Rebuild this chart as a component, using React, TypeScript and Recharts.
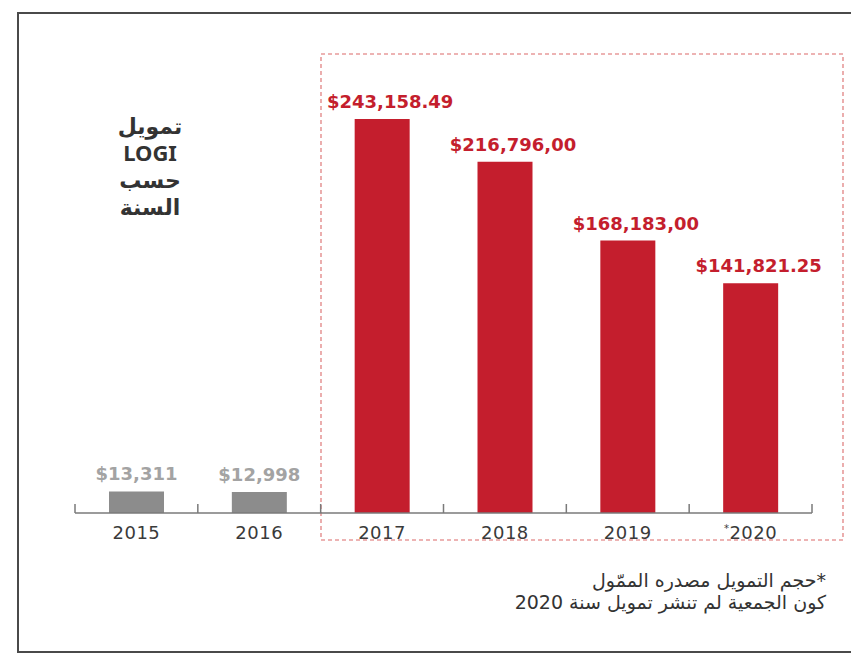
import { Bar, BarChart, Cell, LabelList, XAxis, YAxis } from "recharts";

document.body.style.margin = "0";

// LOGI funding per year (values as printed above the bars)
const years = ["2015", "2016", "2017", "2018", "2019", "2020"];
const amounts = [13311, 12998, 243158.49, 216796, 168183, 141821.25];
const amountLabels = ["$13,311", "$12,998", "$243,158.49", "$216,796,00", "$168,183,00", "$141,821.25"];
const published = [false, false, true, true, true, true];

const titleLines = ["تمويل", "LOGI", "حسب", "السنة"];
const footnoteLines = ["*حجم التمويل مصدره الممّول", "كون الجمعية لم تنشر تمويل سنة 2020"];

const RED = "#c41e2d";
const GREY_BAR = "#8c8c8c";
const GREY_TEXT = "#a3a3a3";
const AXIS = "#7a7a7a";

const data = years.map((year, i) => ({
  year,
  amount: amounts[i],
  label: amountLabels[i],
  published: published[i],
}));

// year label under the band, plus the small upward marks on the band edges
function YearTick({ x, y, payload, index }: any) {
  const v = String(payload.value);
  const half = payload.offset ?? 737 / 12;
  const last = index === years.length - 1;
  return (
    <g>
      <line x1={x - half} x2={x - half} y1={y} y2={y - 9} stroke={AXIS} strokeWidth={1.5} />
      {last && <line x1={x + half} x2={x + half} y1={y} y2={y - 9} stroke={AXIS} strokeWidth={1.5} />}
      <text
        x={x}
        y={y + 26}
        textAnchor="middle"
        fill="#3a3a3a"
        fontFamily="DejaVu Sans"
        fontSize={18}
        letterSpacing={0.5}
      >
        {v === "2020" ? (
          <>
            <tspan fontSize={10} dy={-7}>*</tspan>
            <tspan dy={7}>{v}</tspan>
          </>
        ) : (
          v
        )}
      </text>
    </g>
  );
}

function AmountLabel({ x, y, width, index }: any) {
  const d = data[index];
  return (
    <text
      x={x + width / 2 + (d.published ? 8 : 0)}
      y={y - 11}
      textAnchor="middle"
      fill={d.published ? RED : GREY_TEXT}
      fontFamily="DejaVu Sans"
      fontWeight="bold"
      fontSize={18}
    >
      {d.label}
    </text>
  );
}

export default function App() {
  return (
    <div style={{ position: "relative", width: 851, height: 656, overflow: "hidden", background: "#fff" }}>
      {/* outer frame, runs off the right edge */}
      <div
        style={{
          position: "absolute", left: 17, top: 12, width: 900, height: 641,
          border: "2px solid #4a4a4a", boxSizing: "border-box",
        }}
      />
      {/* dotted box around published years */}
      <svg style={{ position: "absolute", left: 0, top: 0 }} width={851} height={656}>
        <rect x={321} y={54} width={522} height={486} fill="none" stroke="#e79a9a" strokeWidth={1.6} strokeDasharray="4 3" />
      </svg>

      <div
        dir="rtl"
        style={{
          position: "absolute", left: 90, top: 112, width: 120, textAlign: "center",
          fontFamily: "'Noto Sans', 'DejaVu Sans', sans-serif", fontWeight: "bold",
          fontSize: 22, lineHeight: "27px", color: "#333",
        }}
      >
        {titleLines.map((t) => (
          <div key={t}>{t}</div>
        ))}
      </div>

      <div style={{ position: "absolute", left: 0, top: 0 }}>
        <BarChart
          width={851}
          height={656}
          data={data}
          margin={{ top: 108, right: 39, bottom: 113, left: 75 }}
        >
          <YAxis hide domain={[0, 250000]} />
          <XAxis
            dataKey="year"
            height={30}
            axisLine={{ stroke: AXIS, strokeWidth: 1.5 }}
            tickLine={false}
            tickSize={0}
            tickMargin={0}
            interval={0}
            tick={<YearTick />}
          />
          <Bar dataKey="amount" barSize={55} isAnimationActive={false}>
            {data.map((d) => (
              <Cell key={d.year} fill={d.published ? RED : GREY_BAR} />
            ))}
            <LabelList dataKey="label" content={<AmountLabel />} />
          </Bar>
        </BarChart>
      </div>

      <div
        dir="rtl"
        style={{
          position: "absolute", right: 25, top: 569, textAlign: "right",
          fontFamily: "'DejaVu Sans', sans-serif", fontSize: 19, lineHeight: "22px", color: "#333",
        }}
      >
        {footnoteLines.map((t) => (
          <div key={t}>{t}</div>
        ))}
      </div>
    </div>
  );
}
